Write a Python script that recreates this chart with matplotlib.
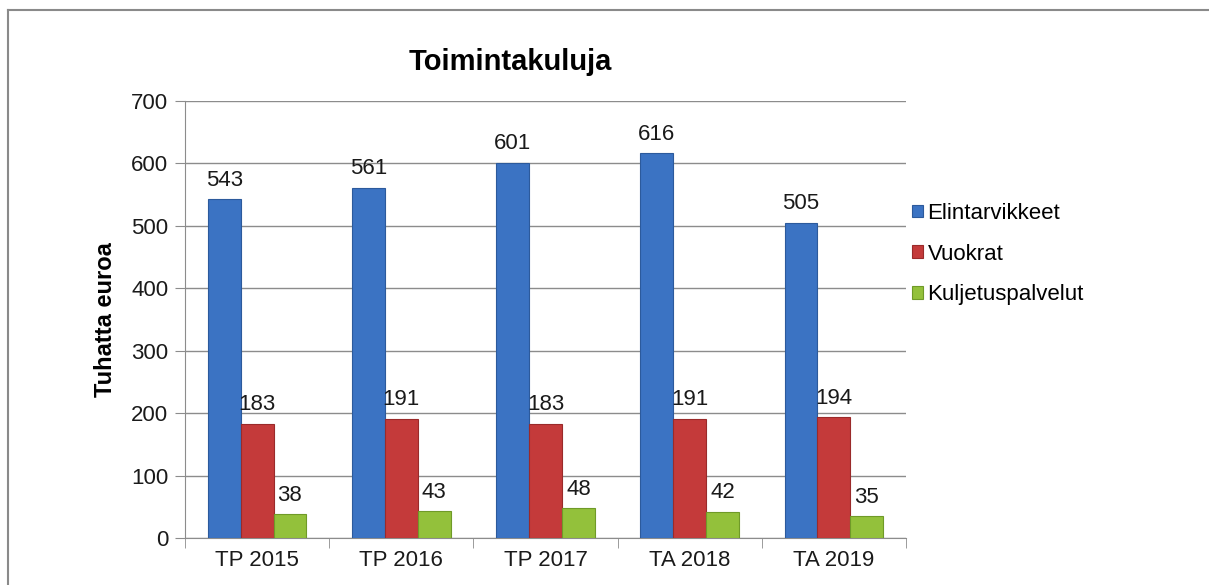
import matplotlib.pyplot as plt
import numpy as np
from matplotlib.lines import Line2D

plt.rcParams['font.family'] = ['Liberation Sans', 'DejaVu Sans']

categories = ["TP 2015", "TP 2016", "TP 2017", "TA 2018", "TA 2019"]
series_names = ["Elintarvikkeet", "Vuokrat", "Kuljetuspalvelut"]
elintarvikkeet = [543, 561, 601, 616, 505]
vuokrat = [183, 191, 183, 191, 194]
kuljetus = [38, 43, 48, 42, 35]
colors = ["#3b73c3", "#c43a3a", "#93c13b"]
edges = ["#2c5a9c", "#9a2a2a", "#6f9a28"]

fig = plt.figure(figsize=(12.09, 5.85), dpi=100)
ax = fig.add_axes([185/1209, 1-538/585, (906-185)/1209, (538-101)/585])

x = np.arange(len(categories))
w = 0.228
for i, vals in enumerate([elintarvikkeet, vuokrat, kuljetus]):
    pos = x + (i - 1) * w
    bars = ax.bar(pos, vals, w, color=colors[i], edgecolor=edges[i], linewidth=0.8,
                  label=series_names[i], zorder=3)
    for b, v in zip(bars, vals):
        ax.annotate(str(v), (b.get_x() + b.get_width()/2, v), xytext=(0, 6),
                    textcoords="offset points", ha="center", va="bottom",
                    fontsize=16, color="#1a1a1a", zorder=4)

ax.set_xlim(-0.5, len(categories) - 0.5)
ax.set_ylim(0, 700)
ax.set_yticks(range(0, 701, 100))
ax.yaxis.grid(True, color="#8c8c8c", linewidth=1)
ax.set_axisbelow(True)
for s in ["top", "right"]:
    ax.spines[s].set_visible(False)
ax.spines["left"].set_color("#8c8c8c")
ax.spines["bottom"].set_color("#8c8c8c")
ax.set_xticks(x)
ax.set_xticklabels(categories)
ax.set_xticks(np.arange(-0.5, len(categories)), minor=True)
ax.tick_params(axis="x", which="major", length=0, pad=9, labelsize=16, colors="#1a1a1a")
ax.tick_params(axis="x", which="minor", length=7, color="#8c8c8c")
ax.tick_params(axis="y", length=7, color="#8c8c8c", labelsize=16, labelcolor="#1a1a1a", pad=5)
ax.set_ylabel("Tuhatta euroa", fontsize=17, fontweight="bold", labelpad=10)

fig.text(510/1209, 1-62/585, "Toimintakuluja", ha="center", va="center",
         fontsize=21, fontweight="bold")

ax.legend(loc="upper left", bbox_to_anchor=(912/1209, 1-203/585),
          bbox_transform=fig.transFigure, frameon=False, fontsize=16,
          handlelength=0.5, handleheight=0.5, handletextpad=0.2,
          labelspacing=0.88, borderaxespad=0, borderpad=0)

# outer chart border
fig.add_artist(Line2D([8/1209, 8/1209], [0, 1-10/585], transform=fig.transFigure,
                      color="#8a8a8a", linewidth=1.5))
fig.add_artist(Line2D([8/1209, 1], [1-10/585, 1-10/585], transform=fig.transFigure,
                      color="#8a8a8a", linewidth=1.5))

fig.savefig("out.png", dpi=100)
